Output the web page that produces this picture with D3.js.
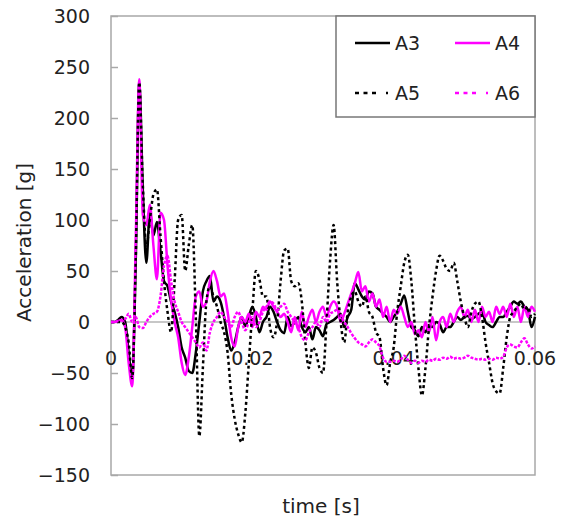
<!DOCTYPE html>
<html>
<head>
<meta charset="utf-8">
<script src="https://cdn.jsdelivr.net/npm/d3@7"></script>
<style>
    body { margin: 0; background: #fff; }
    svg text { font-family: "DejaVu Sans", sans-serif; fill: #222; }
</style>
</head>
<body>
<svg id="chart"></svg>
<script>
// sample time grid, ms (0.5 ms steps)
const timeMs = d3.range(0, 60.5, 0.5);

// acceleration [g]
const a3 = [0, 0, 2, 5, 0, -30, -55, 60, 235, 130, 58, 108, 85, 98, 70, 40, 35, 20, 10, -5,
    -25, -35, -48, -50, -30, 0, 30, 40, 45, 20, 25, 20, 5, -15, -28, -20, -5, 5, -4, 5,
    15, 5, -10, 0, 5, 15, 10, 0, -8, -11, 5, -4, 0, 5, -5, -10, -5, -17, -5, -8,
    -14, -2, 0, 2, 5, 8, -5, 5, 12, 38, 32, 25, 22, 30, 28, 15, 12, 8, 5, 0,
    5, 10, 18, 26, 10, -5, -8, -14, -5, -10, -3, -5, 0, -2, -10, -5, -5, 0, 5, 2,
    5, 6, 3, 5, 8, 10, 0, -3, -5, 0, 5, 5, 10, 15, 20, 18, 20, 15, 12, -5, 5];

const a4 = [0, 0, 1, 2, -5, -40, -63, 80, 238, 105, 95, 115, 75, 42, 107, 100, 55, 22, 0, -15,
    -40, -52, -35, -5, 25, 30, 15, 20, 40, 50, 40, 25, 28, 10, -15, -24, -5, 5, 0, 8,
    -5, 10, 5, 15, 12, 20, 15, 10, 5, 8, 0, -10, 5, -8, 10, -5, 5, 12, 0, 10,
    15, 5, 15, 20, 15, 0, 8, 18, 28, 38, 49, 30, 35, 20, 28, 15, 22, 5, 15, 0,
    12, 8, 15, 5, -5, 0, -12, -8, -15, 0, -10, 5, -18, 0, 5, -5, 8, 0, 10, 15,
    5, 12, 0, 12, 0, 15, 5, 10, 0, 15, 8, 15, 5, 18, 5, 15, 0, 15, 5, 15, 10];

const a5 = [0, 0, 0, 0, -5, -20, -55, 60, 235, 135, 75, 100, 125, 130, 85, 40, 10, -10, 40, 100,
    105, 50, 75, 95, 5, -112, -45, 20, 35, 25, 15, 0, -10, -30, -70, -95, -110, -118, -90, -40,
    10, 50, 42, 25, 25, -5, -15, 0, 40, 70, 72, 40, 35, 38, 20, -20, -45, -25, -30, -45,
    -50, 0, 60, 95, 40, 0, -20, 10, 25, 30, 20, 15, 25, 10, 5, -10, -15, -45, -62, -40,
    -25, 10, 35, 58, 66, 40, -5, -45, -72, -45, -5, 25, 50, 65, 60, 52, 50, 58, 40, 20,
    5, -5, 10, 18, 20, 5, -20, -40, -60, -68, -70, -45, -15, 5, 10, 15, 18, 12, 15, 5, 8];

const a6 = [0, 0, 1, 2, 3, 8, 0, 5, -5, -6, 0, 5, 8, 10, 25, 55, 65, 40, 20, 10,
    0, -5, -10, -15, -20, -25, -20, -28, -10, 0, 5, 10, 5, 0, -5, 5, 10, 0, -8, 0,
    5, -5, 0, 10, 15, 20, 18, 12, 15, 18, 10, 5, 0, -5, -15, -18, -10, -5, 0, -5,
    5, 0, 8, 10, 12, 7, 0, -5, -11, -16, -20, -22, -24, -20, -17, -20, -24, -35, -39, -39,
    -38, -39, -37, -33, -37, -40, -38, -40, -38, -39, -37, -38, -36, -37, -35, -36, -34, -36, -35, -36,
    -35, -33, -35, -36, -37, -36, -37, -36, -37, -35, -36, -34, -25, -22, -24, -25, -20, -16, -22, -26, -24];

const seriesNames = ['A3', 'A4', 'A5', 'A6'];
const seriesValues = [a3, a4, a5, a6];
const yTicks = [-150, -100, -50, 0, 50, 100, 150, 200, 250, 300];
const xTicks = [0, 0.02, 0.04, 0.06];

class AccelChart {
    constructor(_config, _data) {
        this.config = {
            parentElement: _config.parentElement,
            containerWidth: _config.containerWidth || 565,
            containerHeight: _config.containerHeight || 523,
            margin: _config.margin || { top: 16, right: 30, bottom: 48, left: 111 },
            styles: _config.styles
        };
        this.data = _data;
        this.initVis();
    }

    initVis() {
        let vis = this;

        vis.width = vis.config.containerWidth - vis.config.margin.left - vis.config.margin.right;
        vis.height = vis.config.containerHeight - vis.config.margin.top - vis.config.margin.bottom;

        vis.xScale = d3.scaleLinear().domain([0, 0.06]).range([0, vis.width]);
        vis.yScale = d3.scaleLinear().domain([-150, 300]).range([vis.height, 0]);

        vis.svg = d3.select(vis.config.parentElement)
            .attr('width', vis.config.containerWidth)
            .attr('height', vis.config.containerHeight);

        vis.chart = vis.svg.append('g')
            .attr('transform', `translate(${vis.config.margin.left},${vis.config.margin.top})`);

        // frame
        vis.chart.append('rect')
            .attr('width', vis.width)
            .attr('height', vis.height)
            .attr('fill', 'none')
            .attr('stroke', '#a8a8a8')
            .attr('stroke-width', 1.5);

        // zero line
        vis.chart.append('line')
            .attr('x1', 0).attr('x2', vis.width)
            .attr('y1', vis.yScale(0)).attr('y2', vis.yScale(0))
            .attr('stroke', '#b4b4b4')
            .attr('stroke-width', 1.5);

        vis.yAxis = d3.axisLeft(vis.yScale).tickValues(yTicks).tickSize(-7).tickPadding(21);
        vis.yAxisG = vis.chart.append('g').attr('class', 'axis y-axis');

        vis.xLabels = vis.chart.append('g').attr('class', 'x-labels');

        vis.lineG = vis.chart.append('g');

        vis.svg.append('text')
            .attr('transform', `translate(31,${vis.config.margin.top + vis.height / 2 - 3}) rotate(-90)`)
            .attr('text-anchor', 'middle')
            .style('font-size', '20px')
            .text('Acceleration [g]');

        vis.svg.append('text')
            .attr('x', vis.config.margin.left + vis.width / 2 - 2)
            .attr('y', 513)
            .attr('text-anchor', 'middle')
            .style('font-size', '20px')
            .text('time [s]');

        vis.line = d3.line()
            .x(d => vis.xScale(d.t))
            .y(d => vis.yScale(d.v))
            .curve(d3.curveMonotoneX);
    }

    updateVis() {
        let vis = this;
        vis.series = vis.data.names.map((name, k) => ({
            name: name,
            style: vis.config.styles[k],
            points: vis.data.values[k].map((v, i) => ({ t: vis.data.time[i] / 1000, v: v }))
        }));
        vis.renderVis();
    }

    renderVis() {
        let vis = this;

        vis.yAxisG.call(vis.yAxis)
            .call(g => g.select('.domain').remove())
            .call(g => g.selectAll('.tick line').attr('stroke', '#a8a8a8').attr('stroke-width', 1.5))
            .call(g => g.selectAll('.tick text').style('font-size', '19px').attr('fill', '#222'));

        vis.xLabels.selectAll('text')
            .data(xTicks)
            .join('text')
            .attr('x', d => vis.xScale(d))
            .attr('y', vis.yScale(0) + 43)
            .attr('text-anchor', 'middle')
            .style('font-size', '19px')
            .text(d => d === 0 ? '0' : d3.format('.2f')(d));

        vis.lineG.selectAll('.series')
            .data(vis.series)
            .join('path')
            .attr('class', 'series')
            .attr('fill', 'none')
            .attr('stroke', d => d.style.color)
            .attr('stroke-width', 2.5)
            .attr('stroke-dasharray', d => d.style.dash)
            .attr('d', d => vis.line(d.points));

        // legend
        const lg = vis.chart.append('g')
            .attr('transform', `translate(${vis.width - 199},0)`);

        lg.append('rect')
            .attr('width', 199)
            .attr('height', 101)
            .attr('fill', '#fff')
            .attr('stroke', '#777')
            .attr('stroke-width', 1.5);

        const items = lg.selectAll('.item')
            .data(vis.series)
            .join('g')
            .attr('class', 'item')
            .attr('transform', (d, i) => `translate(${19 + (i % 2) * 100},${27 + Math.floor(i / 2) * 50})`);

        items.append('line')
            .attr('x1', 0).attr('x2', 35)
            .attr('stroke', d => d.style.color)
            .attr('stroke-width', 2.5)
            .attr('stroke-dasharray', d => d.style.legendDash);

        items.append('text')
            .attr('x', 40)
            .attr('y', 7)
            .style('font-size', '19px')
            .text(d => d.name);
    }
}

const chart = new AccelChart({
    parentElement: '#chart',
    styles: [
        { color: '#000', dash: null, legendDash: null },
        { color: '#ff00ff', dash: null, legendDash: null },
        { color: '#000', dash: '3,3', legendDash: '4,4.5,4,4.5,4,10,2,20' },
        { color: '#ff00ff', dash: '3,1.5', legendDash: '4,4.5,4,4.5,4,10,2,20' }
    ]
}, { time: timeMs, names: seriesNames, values: seriesValues });
chart.updateVis();
</script>
</body>
</html>
